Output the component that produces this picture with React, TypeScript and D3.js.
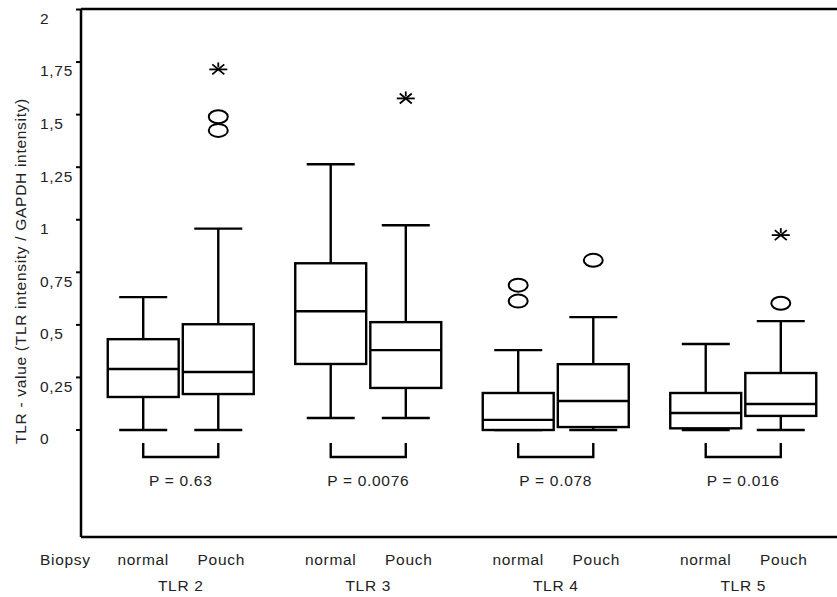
import React from 'react'
import * as d3 from 'd3'

// TLR expression per biopsy site
const groups = ['TLR 2', 'TLR 3', 'TLR 4', 'TLR 5']
const biopsies = ['normal', 'Pouch']
const pValues = ['P = 0.63', 'P = 0.0076', 'P = 0.078', 'P = 0.016']
const yTicks = [0, 0.25, 0.5, 0.75, 1, 1.25, 1.5, 1.75, 2]

// one entry per box: TLR2 normal, TLR2 Pouch, TLR3 normal, ...
const lowWhisker = [0, 0, 0.057, 0.057, 0, 0, 0, 0]
const q1 = [0.157, 0.171, 0.314, 0.2, 0, 0.014, 0.008, 0.067]
const median = [0.29, 0.276, 0.565, 0.38, 0.048, 0.138, 0.081, 0.124]
const q3 = [0.432, 0.503, 0.793, 0.513, 0.176, 0.313, 0.176, 0.271]
const highWhisker = [0.632, 0.958, 1.264, 0.974, 0.38, 0.537, 0.409, 0.518]
const outliers = [[], [1.425, 1.49], [], [], [0.613, 0.689], [0.807], [], [0.603]]
const extremes = [[], [1.715], [], [1.577], [], [], [], [0.927]]

const W = 837
const H = 597
const left = 81
const top = 9
const bottom = 537

const font = '"Liberation Sans", Arial, sans-serif'
const txt = { fontSize: 15.5, fill: '#222', letterSpacing: 0.7 }

export default function App () {
  const y = d3.scaleLinear().domain([0, 2]).range([430, 9.5])
  const x = d3.scaleBand().domain(groups).range([87, 837]).padding(0)
  const inner = d3.scaleBand().domain(biopsies).range([-73, 73]).paddingInner(0.055)
  const bw = inner.bandwidth()
  const capW = 48

  const boxes = []
  groups.forEach((g, gi) => {
    biopsies.forEach((b, bi) => {
      const i = gi * 2 + bi
      const cx = x(g) + x.bandwidth() / 2 + inner(b) + bw / 2
      boxes.push({ i, g, b, cx })
    })
  })

  const star = (cx, cy, k) => (
    <g key={k} stroke='#000' strokeWidth={1.8}>
      <line x1={cx - 9} x2={cx + 9} y1={cy} y2={cy} />
      <line x1={cx - 6} x2={cx + 6} y1={cy - 5} y2={cy + 5} />
      <line x1={cx - 6} x2={cx + 6} y1={cy + 5} y2={cy - 5} />
      <line x1={cx} x2={cx} y1={cy - 7} y2={cy - 2} />
    </g>
  )

  return (
    <>
      <style>{'body{margin:0}'}</style>
      <svg width={W} height={H} style={{ display: 'block', background: '#fff' }} fontFamily={font}>
        {/* frame */}
        <g stroke='#000' strokeWidth={2.5} fill='none'>
          <line x1={left} x2={W} y1={top} y2={top} />
          <line x1={left} x2={W} y1={bottom} y2={bottom} />
          <line x1={left} x2={left} y1={top} y2={bottom} />
        </g>

        {/* y axis */}
        {yTicks.map(t => (
          <g key={t}>
            <line x1={left - 5} x2={left} y1={y(t)} y2={y(t)} stroke='#000' strokeWidth={2} />
            <text x={40} y={y(t) + 9} dy='0.35em' {...txt}>
              {String(t).replace('.', ',')}
            </text>
          </g>
        ))}
        <text
          transform={`translate(21,${271}) rotate(-90)`}
          textAnchor='middle' dy='0.35em' {...txt}
        >
          TLR - value (TLR intensity / GAPDH intensity)
        </text>

        {/* boxes */}
        {boxes.map(({ i, cx }) => (
          <g key={i} stroke='#000' strokeWidth={2.4} fill='#fff'>
            <line x1={cx} x2={cx} y1={y(highWhisker[i])} y2={y(q3[i])} />
            <line x1={cx} x2={cx} y1={y(q1[i])} y2={y(lowWhisker[i])} />
            <line x1={cx - capW / 2} x2={cx + capW / 2} y1={y(highWhisker[i])} y2={y(highWhisker[i])} />
            <line x1={cx - capW / 2} x2={cx + capW / 2} y1={y(lowWhisker[i])} y2={y(lowWhisker[i])} />
            <rect x={cx - bw / 2} width={bw} y={y(q3[i])} height={y(q1[i]) - y(q3[i])} />
            <line x1={cx - bw / 2} x2={cx + bw / 2} y1={y(median[i])} y2={y(median[i])} />
            {outliers[i].map((v, k) => (
              <ellipse key={k} cx={cx} cy={y(v)} rx={9.5} ry={6.5} fill='none' strokeWidth={2} />
            ))}
            {extremes[i].map((v, k) => star(cx, y(v), 's' + k))}
          </g>
        ))}

        {/* significance brackets */}
        {groups.map((g, gi) => {
          const c = x(g) + x.bandwidth() / 2
          const a = c + inner('normal') + bw / 2
          const b = c + inner('Pouch') + bw / 2
          return (
            <g key={g}>
              <path d={`M${a},443V457H${b}V443`} stroke='#000' strokeWidth={2.4} fill='none' />
              <text x={(a + b) / 2} y={481} dy='0.35em' textAnchor='middle' {...txt}>
                {pValues[gi]}
              </text>
            </g>
          )
        })}

        {/* category labels */}
        <text x={40} y={560} dy='0.35em' {...txt}>Biopsy</text>
        {boxes.map(({ i, b, cx }) => (
          <text key={'l' + i} x={cx + (b === 'Pouch' ? 3 : 0)} y={560} dy='0.35em' textAnchor='middle' {...txt}>
            {b}
          </text>
        ))}
        {groups.map(g => (
          <text key={'g' + g} x={x(g) + x.bandwidth() / 2} y={586} dy='0.35em' textAnchor='middle' {...txt}>
            {g}
          </text>
        ))}
      </svg>
    </>
  )
}
